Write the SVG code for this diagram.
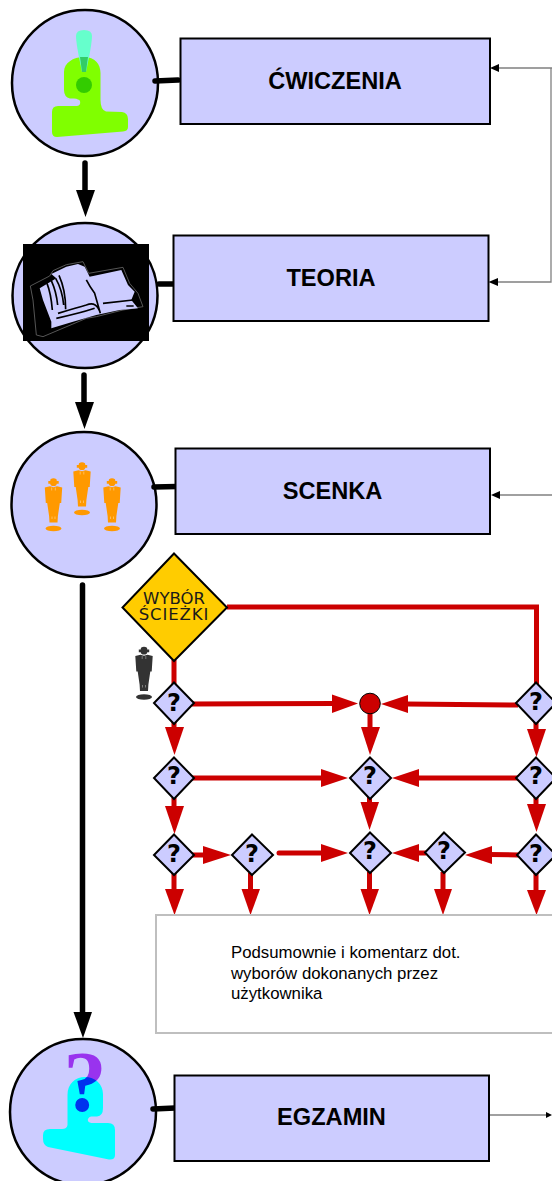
<svg xmlns="http://www.w3.org/2000/svg" width="552" height="1181" viewBox="0 0 552 1181">
<style>
.node{fill:#ccccff;stroke:#000;stroke-width:2.5}
.box{fill:#ccccff;stroke:#000;stroke-width:2}
.title{font:bold 23.600px "Liberation Sans",Arial,sans-serif;fill:#000;text-anchor:middle}
.q{font:bold 24px "DejaVu Sans",sans-serif;fill:#000;text-anchor:middle}
.dia{fill:#ccccff;stroke:#000;stroke-width:2}
.k{stroke:#000;stroke-width:5.5;fill:none;stroke-linecap:round}
.r{stroke:#cc0000;stroke-width:5;fill:none}
.rh{fill:#cc0000}
.thin{stroke:#808080;stroke-width:1.3;fill:none}
.body{font:16.800px "Liberation Sans",Arial,sans-serif;fill:#000}
.wy{font-family:"DejaVu Sans",sans-serif;font-size:16.500px;text-anchor:middle;fill:#1a1a1a}
</style>
<defs>
<g id="person">
<ellipse cx="0" cy="50.500" rx="8" ry="2.800"/>
<path d="M-3 1.200Q0-.8 3 1.200L3.300 3H5.200V5.700H3.300Q3 8 0 8Q-3 8-3.300 5.700H-5.200V3H-3.300ZM-3.500 8.300L0 9.300L3.500 8.300L8.700 9.500L7.700 25H6.300L4.400 38L4 44.500H-4L-4.400 38L-6.300 25H-7.700L-8.700 9.500Z"/>
<path d="M-1.800 9.500V12.500M1.800 9.500V12.500M-1.500 38.500V41M1.500 38.500V41" stroke="#fff" stroke-opacity=".45" stroke-width=".8" fill="none"/>
</g>
</defs>

<g id="cwiczenia-icon">
<circle class="node" cx="85" cy="83" r="73"/>
<path d="M84 57C95 57 100.500 64 100.500 73V100Q100.500 110 106 111.500L122 112Q128 113 128 119V127Q128 131 123 131.500L57 137Q52 137 52 132V112Q52 106 58 106H77Q81 105.500 80 101Q79 99 74 98.500H70Q64 97 64 90V72C64 63 73 57 84 57Z" fill="#80ff00"/>
<path d="M76 36Q76 30 84 30Q92 30 92 36Q92 44 86 72H82Q76 44 76 36Z" fill="#66ffcc"/>
<path d="M80 57H88L86 72H82Z" fill="#33cc66"/>
<circle cx="84" cy="85" r="8" fill="#33cc00"/>
</g>
<g id="teoria-icon">
<circle class="node" cx="85" cy="295.500" r="72.500"/>
<rect x="23" y="244" width="126" height="97" fill="#000"/>
<g transform="translate(23 250) scale(.3333)">
<path d="M22 108L80 78L90 62L130 44L180 35L197 70L300 52L320 100L345 130L360 170L300 180L220 200L190 205L60 260L40 255L30 150Z" fill="none" stroke="#666" stroke-width="2.500"/>
<path d="M50 115L100 85L85 72L130 50L165 42L185 50L200 80L295 60L315 105L335 125L325 150L345 175L290 180L220 195L150 215L85 235L85 215L60 150Z" fill="#ccccff"/>
<path d="M72 100Q84 130 88 180M85 92Q100 125 104 165M98 85Q118 120 122 165M108 76Q128 120 128 178M105 190Q165 172 190 165Q222 152 232 190M100 205Q170 190 215 175M190 90Q200 110 215 130L232 190M240 160L330 150M310 168H332" stroke="#000" stroke-width="5" fill="none"/>
</g>
</g>
<g id="scenka-icon">
<circle class="node" cx="84" cy="504.500" r="72.500"/>
<use href="#person" x="53.500" y="478" fill="#ff9900"/>
<use href="#person" x="82" y="462" fill="#ff9900"/>
<use href="#person" x="112" y="478" fill="#ff9900"/>
</g>
<g id="egzamin-icon">
<circle class="node" cx="83" cy="1112" r="73"/>
<g style="isolation:isolate">
<path d="M85 1077C95 1077 103 1084 103 1094V1108Q103 1116 97 1116.500H91Q87 1118 88 1121Q89 1123 93 1123H108Q115 1123 115 1130V1155Q115 1160 109 1159.500L48 1147Q43 1145 43 1139V1135Q43 1129 50 1129H62Q67 1129 67.500 1125V1095C67.500 1084 75 1077 85 1077Z" fill="#00ffff"/>
<text x="85" y="1111" font-family="Liberation Serif,serif" font-weight="bold" font-size="86" text-anchor="middle" fill="#9933ee" style="mix-blend-mode:multiply">?</text>
</g>
</g>

<g id="connectors">
<path class="k" d="M155 81L178 80"/>
<path class="k" d="M159 284L175 284"/>
<path class="k" d="M154 487L177 486.500"/>
<path class="k" d="M153 1109L175 1108"/>
<path class="k" d="M85 163V192"/><path d="M76 190H95L85.500 217Z"/>
<path class="k" d="M84 375V404"/><path d="M75 402H94L84.500 429Z"/>
<path class="k" d="M82.500 585V1014"/><path d="M73.500 1012H92L83 1038Z"/>
<path class="thin" d="M552 68H497M551 68V282H496"/>
<path d="M490 68L499 64V72Z"/><path d="M488.500 282L498 278V286Z"/>
<path class="thin" d="M552 495H498"/><path d="M491 495L500 491V499Z"/>
<path class="thin" d="M489 1115H546"/><path d="M552 1115L546 1112V1118Z"/>
<path class="r" d="M227 607H536.500V684M174 660V684"/>
<path class="r" d="M192 704L334 703.500"/><path class="rh" d="M332 694.500L358 703.500L332 713Z"/>
<path class="r" d="M518 705L406 704"/><path class="rh" d="M408 695L381 704L408 713Z"/>
<path class="r" d="M174 722V729"/><path class="rh" d="M165 727H184L174.500 755Z"/>
<path class="r" d="M370 712V729"/><path class="rh" d="M361 727H380L370 755Z"/>
<path class="r" d="M536 722V731"/><path class="rh" d="M527 729H546L536.500 757Z"/>
<path class="r" d="M192 778H323"/><path class="rh" d="M321 769V787L348 778Z"/>
<path class="r" d="M518 778H417"/><path class="rh" d="M419 769V787L392 778Z"/>
<path class="r" d="M174 798V808"/><path class="rh" d="M165 806H184L174.500 834Z"/>
<path class="r" d="M369.500 796V804"/><path class="rh" d="M360.500 802H379L369.500 830Z"/>
<path class="r" d="M536 796V806"/><path class="rh" d="M527 804H546L536.500 832Z"/>
<path class="r" d="M192 855H205"/><path class="rh" d="M203 846V864L231 855Z"/>
<path class="r" d="M279 853H323" stroke-linecap="round"/><path class="rh" d="M321 844V862L348 853Z"/>
<path class="r" d="M426 853H417"/><path class="rh" d="M419 844V862L392 853Z"/>
<path class="r" d="M518 855L490 854.500"/><path class="rh" d="M492 846V864L465 855Z"/>
<path class="r" d="M174 873V891"/><path class="rh" d="M165 889H184L174.500 915Z"/>
<path class="r" d="M250.500 873V891"/><path class="rh" d="M241.500 889H260L250.500 915Z"/>
<path class="r" d="M369.500 872V891"/><path class="rh" d="M360.500 889H379L369.500 915Z"/>
<path class="r" d="M443 872V891"/><path class="rh" d="M434 889H452L443 915Z"/>
<path class="r" d="M536 873V892"/><path class="rh" d="M527 890H546L536.500 915Z"/>
</g>

<g id="cwiczenia"><rect class="box" x="180.500" y="38.500" width="309.500" height="85.500"/><text class="title" x="335" y="88.500">ĆWICZENIA</text></g>
<g id="teoria"><rect class="box" x="173.500" y="235.500" width="315" height="85.500"/><text class="title" x="331" y="285.500">TEORIA</text></g>
<g id="scenka"><rect class="box" x="175.500" y="448.500" width="314.500" height="85.500"/><text class="title" x="332.500" y="498.500">SCENKA</text></g>

<g id="wybor">
<path d="M174 553.500L227 607.500L174 661L122.500 607.500Z" fill="#ffcc00" stroke="#000" stroke-width="2"/>
<text class="wy" x="174" y="604">WYBÓR</text>
<text class="wy" x="174" y="620" letter-spacing=".9">ŚCIEŻKI</text>
</g>
<use id="user" href="#person" x="144" y="646.500" fill="#333"/>

<g id="q1"><path class="dia" d="M174 682.500L194 703L174 724L154 703Z"/><text class="q" x="174" y="711">?</text></g>
<g id="q2"><circle cx="370" cy="703.500" r="10.300" fill="#cc0000" stroke="#000" stroke-width="1"/></g>
<g id="q3"><path class="dia" d="M536 682.500L556 703L536 724L516 703Z"/><text class="q" x="536" y="710">?</text></g>
<g id="q4"><path class="dia" d="M174 757.500L194 778L174 799L154 778Z"/><text class="q" x="174" y="784">?</text></g>
<g id="q5"><path class="dia" d="M370 757.500L391 778L370 799L350 778Z"/><text class="q" x="370" y="784">?</text></g>
<g id="q6"><path class="dia" d="M536 757.500L556 778L536 799L516 778Z"/><text class="q" x="536" y="784">?</text></g>
<g id="q7"><path class="dia" d="M174 834.500L194 855L174 875L154 855Z"/><text class="q" x="174" y="862">?</text></g>
<g id="q8"><path class="dia" d="M252 834.500L273 855L252 875L232 855Z"/><text class="q" x="252" y="862">?</text></g>
<g id="q9"><path class="dia" d="M370 832.500L391 853L370 873L350 853Z"/><text class="q" x="370" y="859">?</text></g>
<g id="q10"><path class="dia" d="M444 832.500L465 852.500L444 873L425 852.500Z"/><text class="q" x="444" y="859">?</text></g>
<g id="q11"><path class="dia" d="M536 834.500L556 855L536 875L517 855Z"/><text class="q" x="536" y="862">?</text></g>

<g id="podsumowanie">
<rect x="156" y="915" width="400" height="118" fill="#fff" stroke="#bfbfbf" stroke-width="2"/>
<text class="body" x="231" y="958">Podsumownie i komentarz dot.</text>
<text class="body" x="231" y="979">wyborów dokonanych przez</text>
<text class="body" x="231" y="999">użytkownika</text>
</g>
<g id="egzamin"><rect class="box" x="174.500" y="1075.500" width="314.500" height="85.500"/><text class="title" x="331.500" y="1125">EGZAMIN</text></g>
</svg>
